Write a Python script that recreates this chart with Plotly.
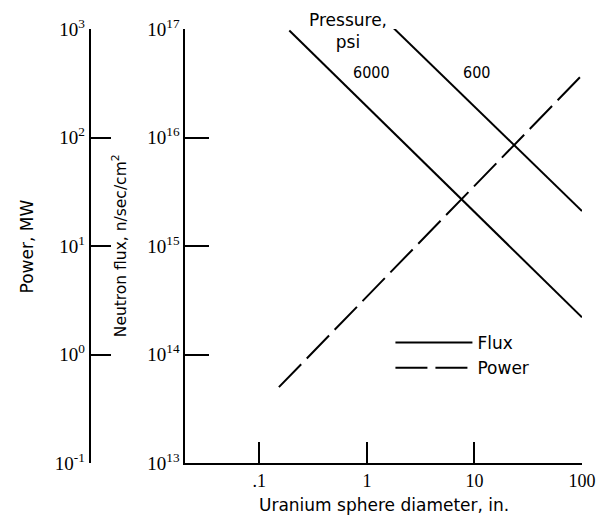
import plotly.graph_objects as go

# ---- data ----
diam_6000 = [0.19, 100]
flux_6000 = [9.7e16, 2.2e14]
diam_600 = [1.77, 100]
flux_600 = [1.02e17, 2.1e15]
diam_power = [0.152, 96]
power_mw = [0.5, 360]

x_tickvals = [0.1, 1, 10, 100]
x_ticktext = [".1", "1", "10", "100"]
flux_tickvals = [1e13, 1e14, 1e15, 1e16, 1e17]
flux_ticktext = ["10<sup>13</sup>", "10<sup>14</sup>", "10<sup>15</sup>", "10<sup>16</sup>", "10<sup>17</sup>"]
power_tickvals = [0.1, 1, 10, 100, 1000]
power_ticktext = ["10<sup>-1</sup>", "10<sup>0</sup>", "10<sup>1</sup>", "10<sup>2</sup>", "10<sup>3</sup>"]

SANS = "DejaVu Sans"
SANS_C = "DejaVu Sans Condensed"
SERIF = "Liberation Serif"

fig = go.Figure()
fig.add_trace(go.Scatter(x=diam_6000, y=flux_6000, mode="lines", name="Flux",
                         line=dict(color="black", width=2), yaxis="y"))
fig.add_trace(go.Scatter(x=diam_600, y=flux_600, mode="lines", name="Flux 600",
                         showlegend=False, line=dict(color="black", width=2), yaxis="y"))
fig.add_trace(go.Scatter(x=diam_power, y=power_mw, mode="lines", name="Power",
                         line=dict(color="black", width=2, dash="32px,8px"), yaxis="y2"))

axis_common = dict(showgrid=False, zeroline=False, showline=True, linecolor="black",
                   linewidth=2, ticks="inside", tickcolor="black", tickwidth=2)

fig.update_layout(
    width=608, height=519,
    margin=dict(l=60, r=19, t=29, b=56),
    paper_bgcolor="white", plot_bgcolor="white",
    font=dict(family=SANS, size=16, color="black"),
    xaxis=dict(type="log", range=[-1.688, 2.0], domain=[0.2401, 1.0],
               tickvals=x_tickvals, ticktext=x_ticktext, ticklen=21,
               tickfont=dict(family=SERIF, size=18), ticklabelstandoff=0,
               **axis_common),
    yaxis=dict(type="log", range=[13, 17], tickvals=flux_tickvals, ticktext=flux_ticktext,
               ticklen=24, tickfont=dict(family=SERIF, size=19), **axis_common),
    yaxis2=dict(type="log", range=[-1, 3], overlaying="y", anchor="free", position=0.0567,
                side="left", tickvals=power_tickvals, ticktext=power_ticktext, ticklen=20,
                tickfont=dict(family=SERIF, size=19), **axis_common),
    legend=dict(x=0.633, y=0.318, xanchor="left", yanchor="top", bgcolor="rgba(0,0,0,0)",
                font=dict(family=SANS, size=17), itemwidth=77),
    showlegend=True,
    annotations=[
        dict(text="Power, MW", xref="paper", yref="paper", x=-0.0624, y=0.5,
             xanchor="center", yanchor="middle",
             textangle=-90, showarrow=False, font=dict(family=SANS, size=17)),
        dict(text="Neutron flux, n/sec/cm<sup>2</sup>", xref="paper", yref="paper", x=0.1134, y=0.5,
             xanchor="center", yanchor="middle",
             textangle=-90, showarrow=False, font=dict(family=SANS, size=15.5)),
        dict(text="Uranium sphere diameter, in.", xref="paper", yref="paper", x=0.62, y=-0.097,
             xanchor="center", yanchor="middle",
             showarrow=False, font=dict(family=SANS, size=17)),
        dict(text="Pressure,<br>psi", xref="x", yref="y", x=-0.174, y=16.98,
             xanchor="center", yanchor="middle",
             showarrow=False, font=dict(family=SANS, size=17)),
        dict(text="6000", xref="x", yref="y", x=0.046, y=16.6,
             xanchor="center", yanchor="middle",
             showarrow=False, font=dict(family=SANS_C, size=16)),
        dict(text="600", xref="x", yref="y", x=1.015, y=16.6,
             xanchor="center", yanchor="middle",
             showarrow=False, font=dict(family=SANS_C, size=16)),
    ],
)

fig.write_html("out.html", config={"displayModeBar": False},
               post_script="document.body.style.margin='0';")
